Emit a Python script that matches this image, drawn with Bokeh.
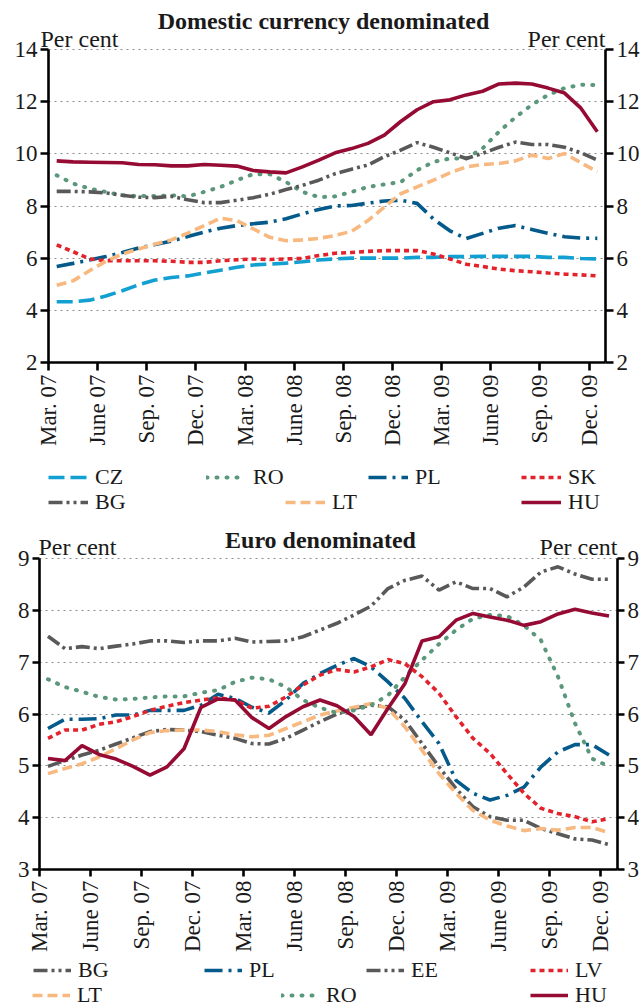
import math
from bokeh.plotting import figure
from bokeh.models import Range1d, LinearAxis, FixedTicker, Legend, LegendItem, Label, Grid
from bokeh.layouts import column
from bokeh.embed import file_html
from bokeh.resources import INLINE

# ---------------- data ----------------
tick_labels = ["Mar. 07", "June 07", "Sep. 07", "Dec. 07", "Mar. 08", "June 08",
               "Sep. 08", "Dec. 08", "Mar. 09", "June 09", "Sep. 09", "Dec. 09"]

# Domestic currency denominated (per cent), monthly Mar. 07 - Dec. 09
dom_cz = [4.33, 4.33, 4.39, 4.55, 4.75, 4.98, 5.16, 5.26, 5.32, 5.43, 5.54, 5.65, 5.74, 5.77,
          5.81, 5.86, 5.93, 5.97, 6.0, 6.0, 6.0, 6.0, 6.03, 6.03, 6.06, 6.06, 6.07, 6.07, 6.07,
          6.07, 6.03, 6.03, 5.99, 5.97]
dom_ro = [9.18, 8.86, 8.67, 8.54, 8.41, 8.38, 8.38, 8.41, 8.37, 8.54, 8.73, 8.99, 9.22, 9.22,
          8.92, 8.54, 8.34, 8.37, 8.54, 8.73, 8.83, 8.92, 9.37, 9.69, 9.82, 9.82, 10.21, 10.85,
          11.4, 11.88, 12.26, 12.52, 12.65, 12.64]
dom_pl = [5.68, 5.8, 5.93, 6.06, 6.22, 6.39, 6.52, 6.65, 6.83, 7.0, 7.15, 7.25, 7.32, 7.38,
          7.51, 7.7, 7.87, 8.0, 8.02, 8.11, 8.19, 8.22, 8.1, 7.5, 7.05, 6.75, 6.95, 7.15, 7.25,
          7.1, 6.95, 6.82, 6.77, 6.76]
dom_sk = [6.51, 6.25, 5.97, 5.9, 5.9, 5.9, 5.9, 5.88, 5.84, 5.84, 5.9, 5.94, 5.97, 5.95, 5.97,
          5.99, 6.1, 6.19, 6.22, 6.26, 6.29, 6.29, 6.29, 6.16, 5.97, 5.77, 5.68, 5.58, 5.52,
          5.48, 5.43, 5.39, 5.36, 5.32]
dom_bg = [8.56, 8.56, 8.54, 8.5, 8.41, 8.34, 8.32, 8.37, 8.24, 8.13, 8.13, 8.22, 8.32, 8.45,
          8.63, 8.79, 8.99, 9.24, 9.41, 9.57, 9.89, 10.14, 10.43, 10.25, 10.04, 9.82, 10.02,
          10.25, 10.45, 10.36, 10.36, 10.25, 10.04, 9.76]
dom_lt = [4.96, 5.13, 5.52, 5.88, 6.16, 6.35, 6.54, 6.7, 6.96, 7.25, 7.53, 7.44, 7.12, 6.8,
          6.67, 6.7, 6.76, 6.87, 7.03, 7.44, 7.96, 8.47, 8.73, 8.99, 9.27, 9.5, 9.59, 9.63,
          9.73, 9.95, 9.82, 10.01, 9.66, 9.31]
dom_hu = [9.73, 9.69, 9.68, 9.67, 9.66, 9.59, 9.58, 9.54, 9.54, 9.59, 9.56, 9.53, 9.36, 9.31,
          9.27, 9.5, 9.76, 10.04, 10.2, 10.4, 10.72, 11.24, 11.69, 12.0, 12.07, 12.26, 12.4,
          12.68, 12.71, 12.68, 12.52, 12.33, 11.75, 10.85]

# Euro denominated (per cent)
eur_bg = [7.5, 7.26, 7.3, 7.26, 7.31, 7.35, 7.41, 7.41, 7.38, 7.41, 7.41, 7.46, 7.39, 7.4,
          7.41, 7.49, 7.62, 7.75, 7.91, 8.08, 8.42, 8.58, 8.66, 8.39, 8.55, 8.42, 8.42, 8.26,
          8.45, 8.74, 8.84, 8.7, 8.6, 8.6]
eur_pl = [5.72, 5.9, 5.9, 5.91, 5.98, 5.98, 6.07, 6.07, 6.07, 6.17, 6.38, 6.3, 6.13, 6.02,
          6.27, 6.59, 6.78, 6.94, 7.07, 6.91, 6.62, 6.3, 5.85, 5.43, 4.72, 4.47, 4.34, 4.43,
          4.59, 4.98, 5.27, 5.41, 5.41, 5.21]
eur_ee = [4.99, 5.1, 5.21, 5.3, 5.42, 5.54, 5.66, 5.7, 5.69, 5.66, 5.59, 5.53, 5.43, 5.42,
          5.53, 5.69, 5.85, 6.0, 6.11, 6.17, 6.14, 5.88, 5.43, 4.98, 4.56, 4.21, 4.02, 3.95,
          3.95, 3.79, 3.69, 3.59, 3.57, 3.48]
eur_lv = [5.53, 5.69, 5.69, 5.8, 5.85, 5.95, 6.07, 6.15, 6.22, 6.27, 6.31, 6.27, 6.11, 6.15,
          6.33, 6.56, 6.75, 6.86, 6.81, 6.91, 7.05, 6.97, 6.72, 6.4, 5.95, 5.53, 5.24, 4.85,
          4.47, 4.18, 4.08, 4.02, 3.92, 3.98]
eur_lt = [4.85, 4.95, 5.04, 5.17, 5.33, 5.5, 5.64, 5.68, 5.69, 5.69, 5.66, 5.6, 5.56, 5.59,
          5.72, 5.85, 5.98, 6.06, 6.13, 6.2, 6.11, 5.75, 5.3, 4.85, 4.47, 4.14, 3.95, 3.84,
          3.75, 3.79, 3.76, 3.81, 3.81, 3.71]
eur_ro = [6.67, 6.52, 6.43, 6.33, 6.28, 6.29, 6.32, 6.34, 6.34, 6.41, 6.46, 6.62, 6.7, 6.67,
          6.52, 6.27, 6.12, 6.02, 6.07, 6.17, 6.36, 6.72, 7.04, 7.35, 7.62, 7.84, 7.91, 7.89,
          7.71, 7.42, 6.72, 5.82, 5.14, 4.99]
eur_hu = [5.14, 5.1, 5.39, 5.22, 5.13, 4.99, 4.82, 4.98, 5.33, 6.13, 6.29, 6.27, 5.93, 5.72,
          5.95, 6.14, 6.27, 6.16, 5.95, 5.6, 6.11, 6.59, 7.41, 7.49, 7.81, 7.94, 7.87, 7.81,
          7.71, 7.78, 7.93, 8.02, 7.95, 7.89]

# ---------------- styles ----------------
FONT = "Liberation Serif"
TICK_FS = "23px"
TEXT_FS = "24px"
LEG_FS = "22px"
TXT = "#1a1a1a"
STYLE = {
    "CZ": dict(line_color="#12a0d2", line_width=3.6, line_dash="16 6"),
    "RO": dict(line_color="#5b977a", line_width=4, line_dash="1 9", line_cap="round"),
    "PL": dict(line_color="#045a8a", line_width=3.6, line_dash="18 6 3 6"),
    "SK": dict(line_color="#e4222b", line_width=3.6, line_dash="5 4"),
    "LV": dict(line_color="#e4222b", line_width=3.6, line_dash="5 4"),
    "BG": dict(line_color="#595959", line_width=3.6, line_dash="14 4 3 4 3 4"),
    "EE": dict(line_color="#595959", line_width=3.6, line_dash="14 4 3 4 3 4"),
    "LT": dict(line_color="#f8b981", line_width=3.6, line_dash="10 5"),
    "HU": dict(line_color="#960b34", line_width=3.6),
}

n = len(dom_hu)
xs = [i + 0.5 for i in range(n)]
tick_pos = [3 * i for i in range(len(tick_labels))]
W = 641
ITEM_H = 26


def make_fig(H, box, ymin, ymax, yticks, series, legend_spec, texts, tick_out, glyph_w):
    # box = pixel position of the data area inside the figure: left, right, top, bottom
    left, right, top, bottom = box
    sx = (right - left) / n
    sy = (bottom - top) / (ymax - ymin)
    xr = Range1d(-left / sx, n + (W - right) / sx)
    yr = Range1d(ymin - (H - bottom) / sy, ymax + top / sy)
    p = figure(width=W, height=H, output_backend="svg", toolbar_location=None,
               x_range=xr, y_range=yr, x_axis_location=None, y_axis_location=None,
               min_border=0)
    p.title.visible = False
    p.outline_line_color = None
    p.background_fill_color = "white"
    p.border_fill_color = "white"
    p.center = [r for r in p.center if not isinstance(r, Grid)]

    grid = Grid(dimension=1, ticker=FixedTicker(ticks=yticks), cross_bounds=(0, n),
                grid_line_color="#8c8c8c", grid_line_dash="2 4", grid_line_width=1.2)
    p.add_layout(grid)

    xa = LinearAxis(ticker=FixedTicker(ticks=tick_pos), fixed_location=ymin, bounds=(0, n),
                    major_label_overrides={t: l for t, l in zip(tick_pos, tick_labels)},
                    major_label_orientation=math.pi / 2)
    ya = LinearAxis(ticker=FixedTicker(ticks=yticks), fixed_location=0, bounds=(ymin, ymax))
    yb = LinearAxis(ticker=FixedTicker(ticks=yticks), fixed_location=n, bounds=(ymin, ymax))
    p.add_layout(xa, "below")
    p.add_layout(ya, "left")
    p.add_layout(yb, "right")
    for ax in (xa, ya, yb):
        ax.axis_line_width = 2.6
        ax.axis_line_color = "black"
        ax.major_tick_line_width = 2.6
        ax.major_tick_out = tick_out
        ax.major_tick_in = 0
        ax.minor_tick_line_color = None
        ax.major_label_text_font = FONT
        ax.major_label_text_font_size = TICK_FS
        ax.major_label_text_color = TXT
        ax.major_label_standoff = 3
    xa.major_label_standoff = 4

    rends = {}
    for name, vals in series:
        rends[name] = p.line(xs, vals, **STYLE[name])

    for name, fx, fy in legend_spec:
        # fx: left of legend glyph, fy: centre of row (figure pixels from top)
        lg = Legend(items=[LegendItem(label=name, renderers=[rends[name]])],
                    location=(fx, H - fy - ITEM_H / 2), orientation="horizontal",
                    glyph_width=glyph_w, glyph_height=ITEM_H, label_height=ITEM_H,
                    label_standoff=7, padding=0, margin=0, spacing=0,
                    border_line_color=None, background_fill_alpha=0,
                    label_text_font=FONT, label_text_font_size=LEG_FS,
                    label_text_color=TXT)
        p.add_layout(lg)

    for text, fx, fy, align, bold in texts:
        p.add_layout(Label(x=fx, y=H - fy, x_units="screen", y_units="screen", text=text,
                           text_font=FONT, text_font_size=TEXT_FS,
                           text_font_style="bold" if bold else "normal",
                           text_align=align, text_baseline="middle", text_color=TXT))
    return p


# -------- top chart (page y 0 .. 516) --------
H1 = 516
p1 = make_fig(H1, (48, 605, 49, 362), 2, 14, [2, 4, 6, 8, 10, 12, 14],
              [("CZ", dom_cz), ("RO", dom_ro), ("PL", dom_pl), ("SK", dom_sk),
               ("BG", dom_bg), ("LT", dom_lt), ("HU", dom_hu)],
              [("CZ", 48, 477), ("RO", 206, 477), ("PL", 368, 477), ("SK", 521, 477),
               ("BG", 48, 502), ("LT", 285, 502), ("HU", 521, 502)],
              [("Domestic currency denominated", 323, 20, "center", True),
               ("Per cent", 40, 38, "left", False),
               ("Per cent", 605, 38, "right", False)],
              8, 40)

# -------- bottom chart (page y 516 .. 1007) --------
H2 = 491
p2 = make_fig(H2, (39, 617, 42, 353), 3, 9, [3, 4, 5, 6, 7, 8, 9],
              [("BG", eur_bg), ("PL", eur_pl), ("EE", eur_ee), ("LV", eur_lv),
               ("LT", eur_lt), ("RO", eur_ro), ("HU", eur_hu)],
              [("BG", 33, 454), ("PL", 204, 454), ("EE", 366, 454), ("LV", 530, 454),
               ("LT", 32, 478.5), ("RO", 281, 478.5), ("HU", 530, 478.5)],
              [("Euro denominated", 320, 23, "center", True),
               ("Per cent", 38, 30, "left", False),
               ("Per cent", 617, 30, "right", False)],
              7, 38)

layout = column(p1, p2, spacing=0)
open("out.html", "w").write(file_html(layout, INLINE))
